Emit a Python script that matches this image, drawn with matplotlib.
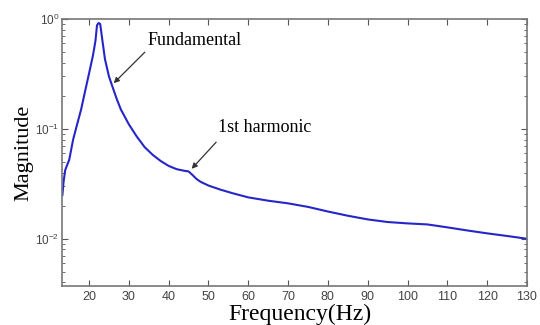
import matplotlib
matplotlib.use("Agg")
import matplotlib.pyplot as plt
import numpy as np

# frequency response
freq = [13.3, 13.6, 14.0, 14.5, 15.0, 16.0, 17.0, 18.0, 19.0, 20.0, 21.0, 21.6,
        22.0, 22.4, 22.8, 23.2, 24.0, 25.0, 26.0, 27.0, 28.0, 30.0, 32.0, 34.0,
        36.0, 38.0, 40.0, 42.0, 44.0, 45.0, 46.0, 47.0, 48.0, 50.0, 53.0, 56.0,
        60.0, 65.0, 70.0, 75.0, 80.0, 85.0, 90.0, 95.0, 100.0, 105.0, 110.0,
        115.0, 120.0, 125.0, 130.0]
mag = [0.025, 0.033, 0.042, 0.047, 0.052, 0.080, 0.11, 0.15, 0.22, 0.32, 0.47, 0.63,
       0.88, 0.92, 0.90, 0.70, 0.43, 0.30, 0.235, 0.185, 0.15, 0.11, 0.085, 0.068,
       0.058, 0.051, 0.046, 0.043, 0.0415, 0.041, 0.038, 0.035, 0.033, 0.0305, 0.028, 0.026,
       0.0238, 0.0222, 0.021, 0.0195, 0.0177, 0.0162, 0.0150, 0.0142, 0.0138, 0.0135, 0.0127,
       0.0119, 0.0112, 0.0106, 0.0100]
xticks = list(range(20, 131, 10))

serif = ['Liberation Serif', 'DejaVu Serif']
sans = ['Liberation Sans', 'DejaVu Sans']

fig = plt.figure(figsize=(5.4, 3.25), dpi=100)
ax = fig.add_axes([0.1148, 0.12, 0.861, 0.8215])
ax.semilogy(freq, mag, color='#2626c8', lw=1.5)

ax.set_xlim(13.2, 130)
ax.set_ylim(10 ** -2.43, 1.0)
ax.set_xticks(xticks)
ax.tick_params(which='both', direction='in', top=True, right=True,
               colors='#555555', labelcolor='#444444', labelsize=9)
ax.tick_params(axis='y', labelsize=8.5, pad=2)
ax.tick_params(which='major', length=4)
ax.tick_params(which='minor', length=2)
ax.tick_params(axis='x', which='minor', top=False, bottom=False)
for lab in ax.get_xticklabels() + ax.get_yticklabels():
    lab.set_family(sans)
for s in ax.spines.values():
    s.set_color('#777777')
    s.set_linewidth(1.2)

ax.set_xlabel('Frequency(Hz)', family=serif, fontsize=17, labelpad=0)
ax.xaxis.set_label_coords(0.512, -0.065)
ax.xaxis.label.set_va('top')
ax.set_ylabel('Magnitude', family=serif, fontsize=16)
ax.yaxis.set_label_coords(-0.062, 0.5)

arrow = dict(arrowstyle='-|>', color='#333333', lw=0.9, mutation_scale=8)
# labels and their arrows (arrow tails sit just off the text)
ax.text(34.7, 0.64, 'Fundamental', family=serif, fontsize=13, ha='left', va='center')
ax.annotate('', xy=(25.7, 0.25), xytext=(34.5, 0.52), arrowprops=arrow)
ax.text(52.3, 0.102, '1st harmonic', family=serif, fontsize=13, ha='left', va='center')
ax.annotate('', xy=(45.3, 0.0415), xytext=(52.4, 0.079), arrowprops=arrow)

fig.savefig('out.png', dpi=100)
